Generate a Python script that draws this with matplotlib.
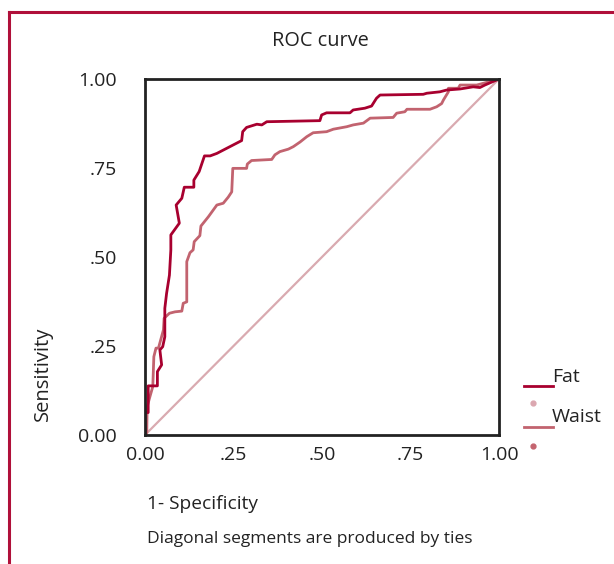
import matplotlib
matplotlib.use('Agg')
import matplotlib.pyplot as plt
from matplotlib.lines import Line2D

plt.rcParams['font.family'] = ['Open Sans', 'DejaVu Sans']

# ROC points (1 - specificity, sensitivity)
fat_x = [0.0, 0.0, 0.009, 0.009, 0.035, 0.035, 0.047, 0.042, 0.050, 0.056, 0.056, 0.061,
         0.069, 0.073, 0.073, 0.097, 0.088, 0.104, 0.111, 0.138, 0.138, 0.153, 0.168,
         0.184, 0.203, 0.273, 0.276, 0.287, 0.316, 0.330, 0.344, 0.494, 0.499, 0.513,
         0.579, 0.588, 0.621, 0.640, 0.654, 0.664, 0.786, 0.796, 0.833, 0.852, 0.890,
         0.927, 0.946, 0.960, 1.0]
fat_y = [0.0, 0.063, 0.063, 0.138, 0.138, 0.178, 0.197, 0.239, 0.248, 0.276, 0.356, 0.398,
         0.449, 0.520, 0.562, 0.595, 0.646, 0.665, 0.696, 0.696, 0.716, 0.740, 0.784,
         0.784, 0.791, 0.827, 0.852, 0.864, 0.873, 0.871, 0.880, 0.883, 0.899, 0.905,
         0.905, 0.913, 0.918, 0.924, 0.946, 0.955, 0.957, 0.960, 0.964, 0.969, 0.972,
         0.978, 0.976, 0.983, 1.0]

waist_x = [0.0, 0.005, 0.006, 0.014, 0.022, 0.025, 0.031, 0.038, 0.052, 0.054, 0.069, 0.085,
           0.104, 0.108, 0.118, 0.118, 0.127, 0.136, 0.139, 0.155, 0.158, 0.179, 0.203,
           0.221, 0.235, 0.245, 0.248, 0.287, 0.289, 0.301, 0.320, 0.358, 0.367, 0.381,
           0.405, 0.419, 0.438, 0.457, 0.475, 0.513, 0.532, 0.570, 0.588, 0.617, 0.636,
           0.701, 0.711, 0.734, 0.740, 0.805, 0.824, 0.838, 0.843, 0.857, 0.857, 0.885,
           0.890, 0.937, 0.956, 1.0]
waist_y = [0.0, 0.006, 0.079, 0.108, 0.136, 0.220, 0.244, 0.244, 0.295, 0.328, 0.342, 0.346,
           0.348, 0.370, 0.374, 0.487, 0.512, 0.520, 0.543, 0.560, 0.587, 0.613, 0.646,
           0.651, 0.668, 0.683, 0.749, 0.749, 0.761, 0.771, 0.772, 0.774, 0.787, 0.796,
           0.803, 0.810, 0.823, 0.838, 0.849, 0.852, 0.859, 0.866, 0.871, 0.876, 0.890,
           0.892, 0.904, 0.908, 0.915, 0.915, 0.922, 0.931, 0.941, 0.964, 0.974, 0.974,
           0.983, 0.983, 0.988, 1.0]

ticks = [0, 0.25, 0.5, 0.75, 1.0]
tick_labels = ['0.00', '.25', '.50', '.75', '1.00']

fat_col = '#a8002f'
waist_col = '#c2636f'
diag_col = '#d9aab0'
frame_col = '#b0103a'
txt_col = '#222222'

fig = plt.figure(figsize=(6.14, 5.64), dpi=100)
ax = fig.add_axes([145/614, 1 - 435/564, 354/614, 356/564])

ax.plot([0, 1], [0, 1], color=diag_col, lw=1.6)
ax.plot(waist_x, waist_y, color=waist_col, lw=2.0)
ax.plot(fat_x, fat_y, color=fat_col, lw=2.0)

ax.set_xlim(0, 1)
ax.set_ylim(0, 1)
ax.set_xticks(ticks)
ax.set_xticklabels(tick_labels, fontsize=14, color=txt_col)
ax.set_yticks(ticks)
ax.set_yticklabels(tick_labels, fontsize=14, color=txt_col)
ax.tick_params(length=0)
ax.tick_params(axis='x', pad=8)
ax.tick_params(axis='y', pad=20)
for s in ax.spines.values():
    s.set_linewidth(2.0)
    s.set_color(txt_col)


def fx(p):
    return p / 614


def fy(p):
    return 1 - p / 564


fig.text(fx(320), fy(41), 'ROC curve', ha='center', va='center', fontsize=14.3, color=txt_col)
fig.text(fx(43), fy(374), 'Sensitivity', rotation=90, ha='center', va='center',
         fontsize=14.5, color=txt_col)
fig.text(fx(147), fy(504), '1- Specificity', ha='left', va='center', fontsize=13.8, color=txt_col)
fig.text(fx(147), fy(539), 'Diagonal segments are produced by ties', ha='left', va='center',
         fontsize=12.5, color=txt_col)

# legend drawn by hand, the way the source places it
fig.add_artist(Line2D([fx(524), fx(553)], [fy(386), fy(386)], color=fat_col, lw=2.0))
fig.text(fx(552), fy(377), 'Fat', ha='left', va='center', fontsize=14, color=txt_col)
fig.add_artist(Line2D([fx(533)], [fy(403)], marker='o', ms=3.5, color='#dba7b0', lw=0))
fig.add_artist(Line2D([fx(524), fx(553)], [fy(427), fy(427)], color=waist_col, lw=2.0))
fig.text(fx(552), fy(417), 'Waist', ha='left', va='center', fontsize=14, color=txt_col)
fig.add_artist(Line2D([fx(533)], [fy(446)], marker='o', ms=3.5, color='#c4646f', lw=0))

# outer red frame (left and top edges visible)
fig.add_artist(Line2D([fx(9), fx(9)], [fy(12), 0], color=frame_col, lw=2.2))
fig.add_artist(Line2D([fx(9), 1], [fy(12), fy(12)], color=frame_col, lw=2.2))

fig.savefig('out.png', dpi=100)
